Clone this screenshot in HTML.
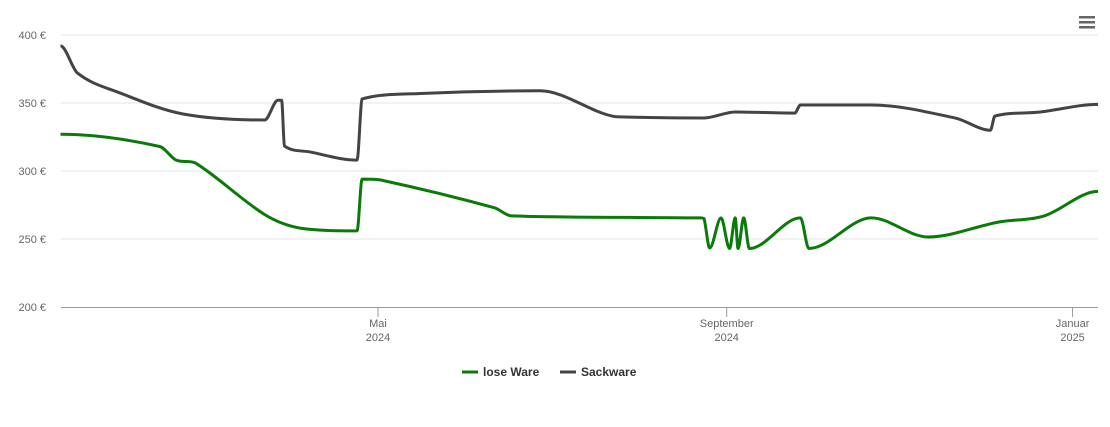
<!DOCTYPE html>
<html><head><meta charset="utf-8"><style>
body{margin:0;background:#fff;font-family:"Liberation Sans",sans-serif}
svg text{font-family:"Liberation Sans",sans-serif}
</style></head><body>
<svg id="c" width="1110" height="422">
<g id="grid"></g>
<g id="series"></g>
<g>
<rect x="1079" y="16" width="16" height="2.5" fill="#666"/><rect x="1079" y="21" width="16" height="2.5" fill="#666"/><rect x="1079" y="26" width="16" height="2.5" fill="#666"/>
</g>
<g>
<g><line x1="462" y1="372" x2="478" y2="372" stroke="#0a7a0a" stroke-width="3"/><text x="483" y="376" font-size="12" font-weight="bold" fill="#333">lose Ware</text></g>
<g><line x1="560" y1="372" x2="576" y2="372" stroke="#444" stroke-width="3"/><text x="581" y="376" font-size="12" font-weight="bold" fill="#333">Sackware</text></g>
</g>
</svg>
<script>
const yTicks=[200,250,300,350,400];
const xTickDays=[121,244,366];
const xTickLabels=[["Mai","2024"],["September","2024"],["Januar","2025"]];
const greenDays=[9,44,49.8,56.5,81,93.5,113.6,115.4,121.7,162,168,234.6,236,238,242,245,247,248,250,252,270,273,295,315,340,356,375];
const greenVals=[327,318,308,306,268,258,256,294,293.5,273,267,265.5,265,243.4,265.5,243,265.5,243,265.5,243,265.5,243,265.5,251.5,262.5,267,285];
const grayDays=[9,15,30,52,81,85.7,87,88,97,113.6,115.4,136,178,204.6,236,247,268,270,295,324.5,337,338.6,354.6,375];
const grayVals=[392,372,357.4,342,337.5,352,352,318.4,314,308,353,357,359,340,339,343.4,342.6,348.5,348.5,339,330,340.4,343.4,349];
const X=d=>378+(d-121)*2.835;
const Y=v=>35+(400-v)*1.36;
const NS="http://www.w3.org/2000/svg";
function mk(t,a,p){const e=document.createElementNS(NS,t);for(const k in a)e.setAttribute(k,a[k]);p.appendChild(e);return e;}
const grid=document.getElementById('grid');
yTicks.forEach(v=>{
  if(v>200){const l=mk('line',{x1:61,x2:1098,y1:Y(v),y2:Y(v),stroke:'#e6e6e6','stroke-width':1},grid);
  
  }
  const t=mk('text',{x:46,y:Y(v)+4,'font-size':11,fill:'#666','text-anchor':'end'},grid);t.textContent=v+' €';
  
  
});
const ax=mk('line',{x1:61,x2:1098,y1:Y(200)+0.5,y2:Y(200)+0.5,stroke:'#999','stroke-width':1},grid);


xTickDays.forEach((d,i)=>{
  mk('line',{x1:X(d),x2:X(d),y1:Y(200),y2:Y(200)+10,stroke:'#999'},grid);
  const t=mk('text',{x:X(d),y:327,'font-size':11,fill:'#666','text-anchor':'middle'},grid);
  
  
  const a=mk('tspan',{x:X(d)},t);a.textContent=xTickLabels[i][0];
  const b=mk('tspan',{x:X(d),dy:14},t);b.textContent=xTickLabels[i][1];
});
function path(ds,vs){
  const p=ds.map((d,i)=>[X(d),Y(vs[i])]);let s=`M${p[0][0]},${p[0][1]}`;const sm=1.5;
  for(let i=1;i<p.length;i++){
    const a=p[i-1],b=p[i],pa=p[i-2]||a,nb=p[i+1]||b;
    let c1x=(sm*a[0]+b[0])/(sm+1),c1y=(sm*a[1]+b[1])/(sm+1);
    let c2x=(sm*b[0]+a[0])/(sm+1),c2y=(sm*b[1]+a[1])/(sm+1);
    // slopes
    const s1=(b[1]-pa[1])/((b[0]-pa[0])||1), s2=(nb[1]-a[1])/((nb[0]-a[0])||1);
    const dx=(b[0]-a[0])/3;
    const lo=Math.min(a[1],b[1]),hi=Math.max(a[1],b[1]);
    const f=v=>Math.max(lo,Math.min(hi,v));
    c1x=a[0]+dx;c2x=b[0]-dx;
    c1y=(i===1)?a[1]:f(a[1]+s1*dx); c2y=(i===p.length-1)?b[1]:f(b[1]-s2*dx);
    if((a[1]-pa[1])*(b[1]-a[1])<=0)c1y=a[1];
    if((b[1]-a[1])*(nb[1]-b[1])<=0)c2y=b[1];
    s+=` C${c1x},${c1y} ${c2x},${c2y} ${b[0]},${b[1]}`;
  }
  return s;
}
const sg=document.getElementById('series');
const g1=mk('path',{d:path(greenDays,greenVals),fill:'none',stroke:'#0a7a0a','stroke-width':3,'stroke-linejoin':'round'},sg);


const g2=mk('path',{d:path(grayDays,grayVals),fill:'none',stroke:'#444','stroke-width':3,'stroke-linejoin':'round'},sg);


</script>
</body></html>
